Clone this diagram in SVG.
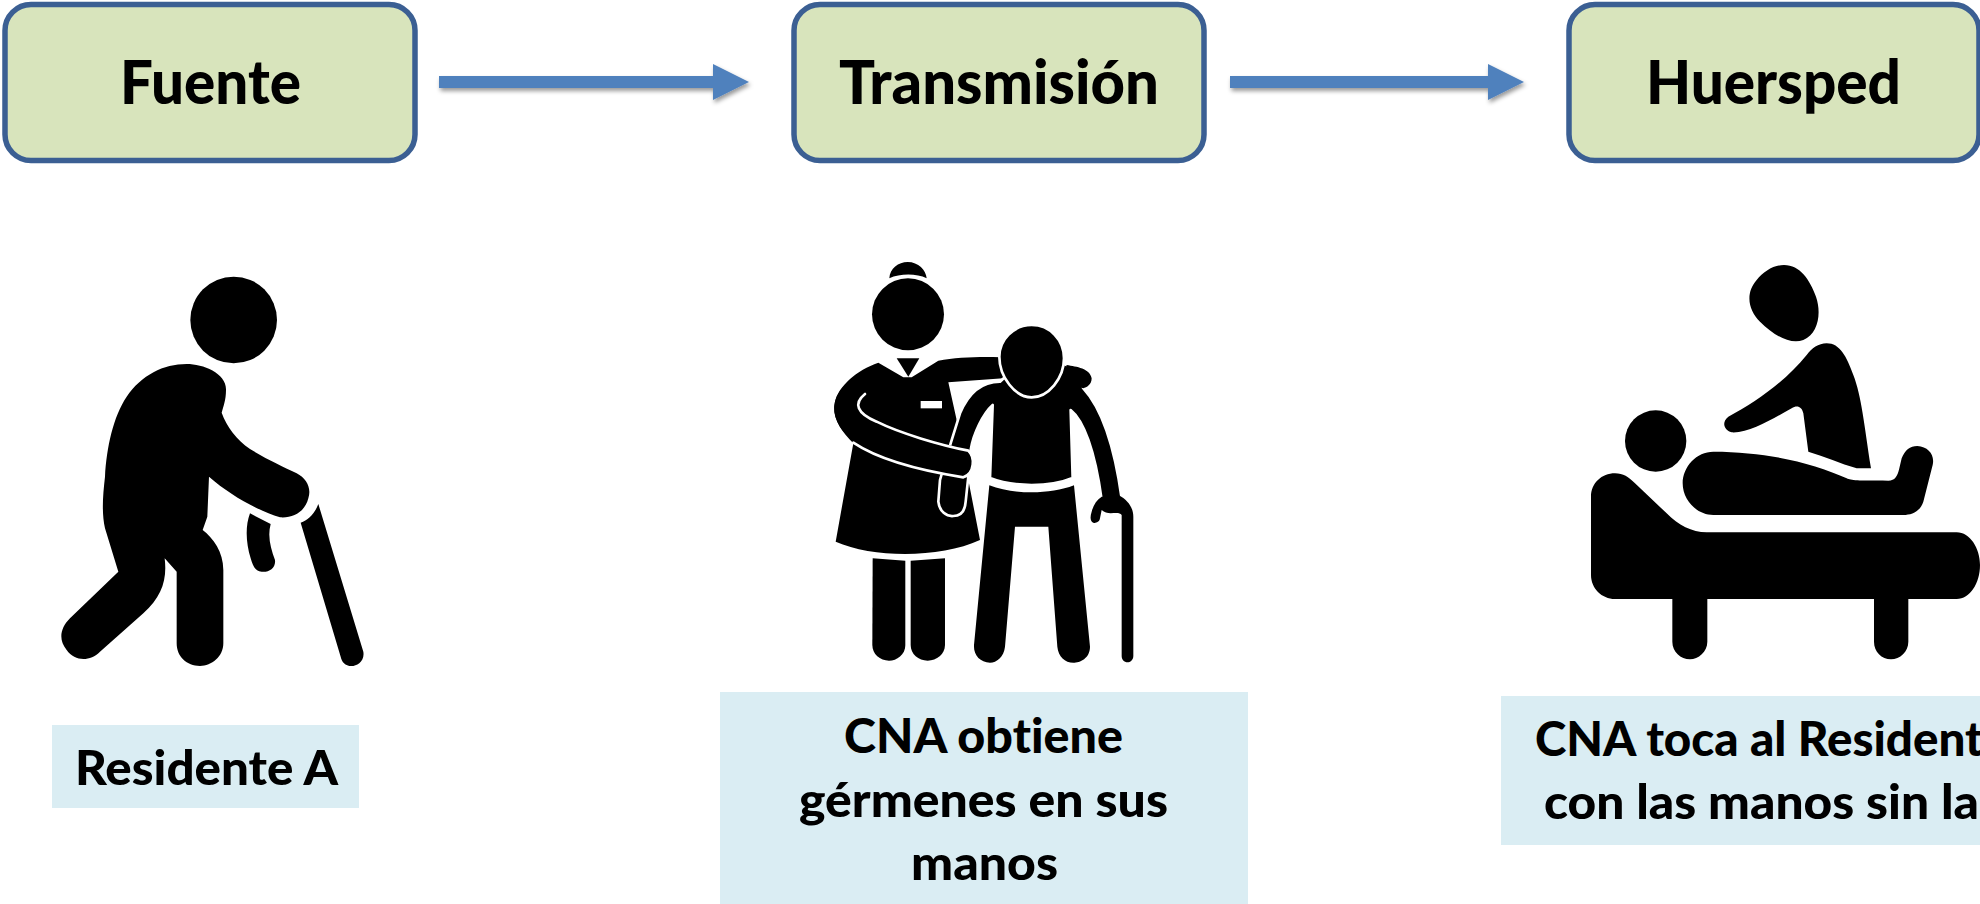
<svg xmlns="http://www.w3.org/2000/svg" width="1980" height="904" viewBox="0 0 1980 904">
<defs>
<style>
.box{fill:#d8e4bc;stroke:#3b5f93;stroke-width:5.5}
.lab{fill:#daedf3}
text{font-family:"Lato","Open Sans","Liberation Sans",sans-serif;font-weight:900;fill:#000;text-anchor:start;font-variant-ligatures:none}
.h{font-size:60px}
.t{font-size:47px}
.arrow{stroke:#4f81bd;stroke-width:12;fill:none;marker-end:url(#head)}
.k{fill:#000}
.o{fill:#000;stroke:#fff;stroke-width:8;stroke-linejoin:round}
.w{fill:none;stroke:#fff;stroke-width:8;stroke-linecap:round}
</style>
<marker id="head" markerUnits="userSpaceOnUse" markerWidth="36" markerHeight="36" refX="0" refY="18" orient="auto"><path d="M0 0L36 18L0 36Z" fill="#4f81bd"/></marker>
<filter id="sh" filterUnits="userSpaceOnUse" x="0" y="0" width="1980" height="200"><feDropShadow dx="1.5" dy="3" stdDeviation="2" flood-color="#000" flood-opacity=".4"/></filter>
</defs>
<rect width="1980" height="904" fill="#fff"/>
<g id="connectors" filter="url(#sh)">
<line class="arrow" x1="439" y1="82" x2="713" y2="82"/>
<line class="arrow" x1="1230" y1="82" x2="1488" y2="82"/>
</g>
<g id="fuente"><rect class="box" x="5" y="4.5" width="410" height="156" rx="26"/><text class="h" x="120" y="104" textLength="181" lengthAdjust="spacingAndGlyphs">Fuente</text></g>
<g id="transmision"><rect class="box" x="794" y="4.5" width="410" height="156" rx="26"/><text class="h" x="839" y="104" textLength="320" lengthAdjust="spacingAndGlyphs">Transmisión</text></g>
<g id="huersped"><rect class="box" x="1569" y="4.5" width="410" height="156" rx="26"/><text class="h" x="1646" y="104" textLength="255" lengthAdjust="spacingAndGlyphs">Huersped</text></g>
<g id="icon-residente" transform="translate(30 250) scale(.33333)">
<circle class="k" cx="611" cy="210" r="130"/>
<path class="k" d="M470 342C520 342 590 370 588 420C588 450 580 470 575 488C590 530 620 570 660 597C710 628 760 650 800 670C830 685 845 715 835 745C825 785 790 805 750 802C680 780 600 735 537 680L532 800L518 840C550 865 580 905 580 960L580 1180C580 1220 545 1248 510 1248C470 1248 440 1220 440 1180L440 965L404 925C412 990 395 1040 340 1090L210 1205C180 1235 135 1235 110 1200C85 1170 90 1135 120 1105L265 965L225 835C215 790 218 740 225 680C230 590 250 500 290 440C335 375 400 342 470 342Z"/>
<path class="k" d="M660 790L722 822C712 860 722 895 735 930C738 955 715 968 695 965C675 965 668 945 662 925C648 880 645 830 660 790Z"/>
<path class="k" d="M865 762L1000 1205C1005 1235 980 1248 965 1248C945 1248 935 1235 932 1220L812 818C835 810 855 790 865 762Z"/>
</g>
<g id="icon-transmision" transform="translate(800 250) scale(.33333)">
<path class="k" d="M268 85C270 55 295 36 323 36C355 36 378 60 380 85C350 70 300 70 268 85Z"/>
<circle class="k" cx="324" cy="193" r="108"/>
<path class="k" d="M218 925L316 932L316 1185C316 1215 290 1232 267 1232C240 1232 217 1212 217 1185Z"/>
<path class="k" d="M332 932L435 925L435 1185C435 1212 410 1232 383 1232C355 1232 332 1212 332 1185Z"/>
<path class="k" d="M235 338L310 382L335 382L415 332C470 322 540 320 600 322L610 385L445 397L470 510L540 870C420 925 220 925 107 875L160 580C120 540 95 500 105 455C115 410 170 360 235 338Z"/>
<path class="k" d="M290 325L358 325L325 380Z"/>
<rect x="362" y="453" width="64" height="22" fill="#fff"/>
<path class="o" d="M600 395C545 395 505 430 480 490L452 580L420 690L415 755C418 785 440 800 460 798C480 798 495 785 497 755L505 680L512 600C520 550 550 490 578 465L570 684C640 712 750 712 818 684L812 480C850 510 885 600 905 750L965 745C945 600 910 480 850 415L800 345L700 300Z"/>
<path class="k" d="M800 345C830 350 870 355 875 385C875 405 860 412 850 415L780 400Z"/>
<path class="k" d="M568 706C640 734 750 734 822 706L870 1190C870 1225 840 1238 820 1238C795 1238 775 1220 772 1190L745 830L645 830L615 1190C612 1220 590 1238 570 1238C540 1238 520 1215 522 1185Z"/>
<path class="k" d="M130 410C95 450 95 490 120 530C150 580 250 620 330 650L490 682C525 675 525 625 505 605L230 510L175 460L195 432Z"/>
<path class="w" d="M195 432C160 460 170 490 230 515C300 550 420 585 505 602C525 620 525 670 490 682C350 660 230 625 160 578"/>
<path class="o" d="M695 225C750 225 792 270 792 325C792 385 745 442 695 442C645 442 598 380 598 320C598 270 640 225 695 225Z"/>
<path class="k" d="M955 735C985 750 1000 775 1000 800L1000 1218C1000 1230 990 1237 983 1237C972 1237 965 1228 965 1218L965 795C955 780 925 800 905 780L900 805C898 818 885 820 880 818C870 815 870 800 875 785C880 765 890 750 905 740Z"/>
</g>
<g id="icon-huesped" transform="translate(1560 250) scale(.33333)">
<path class="k" d="M672 45C720 45 750 90 768 140C785 190 775 250 730 270C690 285 640 255 600 215C565 180 555 130 590 90C610 65 640 45 672 45Z"/>
<path class="k" d="M800 280C840 280 860 320 880 375C905 440 912 520 933 655L890 655C840 640 795 620 745 605L730 490C725 468 710 465 695 475C640 505 570 550 515 547C490 540 485 515 505 500C590 455 680 390 740 315C755 295 775 280 800 280Z"/>
<circle class="k" cx="287" cy="573" r="92"/>
<path class="k" d="M460 605C620 605 760 640 860 685C875 692 890 692 985 692C1005 692 1012 680 1018 655L1025 625C1035 600 1050 588 1072 588C1105 590 1125 615 1118 645L1090 755C1080 785 1055 795 1030 795L460 795C410 795 368 750 368 700C368 650 410 605 460 605Z"/>
<path class="k" d="M165 670C190 670 205 680 225 700L320 790C355 825 395 847 440 847L1190 847C1230 847 1260 895 1260 945C1260 1000 1230 1047 1190 1047L1045 1047L1045 1175C1045 1205 1020 1228 993 1228C965 1228 942 1205 942 1175L942 1047L442 1047L442 1175C442 1205 415 1228 390 1228C362 1228 337 1205 337 1175L337 1047L165 1047C125 1047 93 1015 93 975L93 740C93 700 125 670 165 670Z"/>
</g>
<g id="label-residente"><rect class="lab" x="52" y="725" width="307" height="83"/><text class="t" x="75" y="785" textLength="263" lengthAdjust="spacingAndGlyphs">Residente A</text></g>
<g id="label-transmision"><rect class="lab" x="720" y="692" width="528" height="212"/>
<text class="t" x="844" y="753" textLength="279" lengthAdjust="spacingAndGlyphs">CNA obtiene</text>
<text class="t" x="799" y="817" textLength="369" lengthAdjust="spacingAndGlyphs">gérmenes en sus</text>
<text class="t" x="911" y="880" textLength="147" lengthAdjust="spacingAndGlyphs">manos</text></g>
<g id="label-huesped"><rect class="lab" x="1501" y="696" width="479" height="149"/>
<text class="t" x="1535" y="756" textLength="448" lengthAdjust="spacingAndGlyphs">CNA toca al Resident</text>
<text class="t" x="1544" y="819" textLength="435" lengthAdjust="spacingAndGlyphs">con las manos sin la</text></g>
</svg>
